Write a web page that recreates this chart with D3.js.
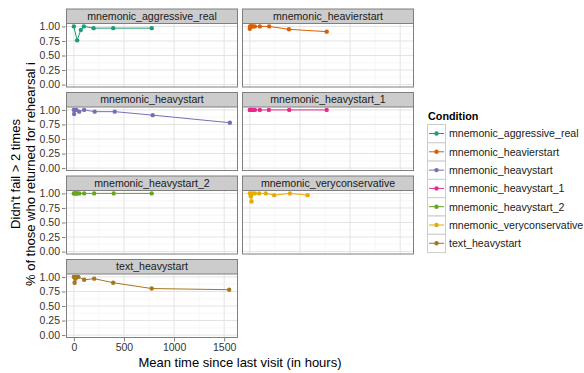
<!DOCTYPE html>
<html><head><meta charset="utf-8">
<script src="https://cdn.jsdelivr.net/npm/d3@7"></script>
<style>body{margin:0;background:#fff}svg{display:block;font-family:"Liberation Sans",Arial,sans-serif}</style>
</head><body><svg id="c" width="584" height="373"></svg>
<script>
const conditions = ["mnemonic_aggressive_real","mnemonic_heavierstart","mnemonic_heavystart","mnemonic_heavystart_1","mnemonic_heavystart_2","mnemonic_veryconservative","text_heavystart"];
const colors = ["#1B9E77","#D95F02","#7570B3","#E7298A","#66A61E","#E6AB02","#A6761D"];

const aggressiveHours = [0, 33, 70, 100, 197, 393, 777];
const aggressiveVals  = [1.0, 0.76, 0.94, 1.0, 0.97, 0.97, 0.97];
const heavierHours = [0, 3, 10, 20, 30, 50, 100, 193, 390, 767];
const heavierVals  = [0.96, 1.0, 1.0, 1.0, 1.0, 1.0, 1.0, 1.0, 0.95, 0.91];
const heavyHours = [0, 3, 12, 25, 53, 103, 208, 408, 787, 1557];
const heavyVals  = [1.0, 0.93, 1.0, 1.0, 0.97, 1.0, 0.97, 0.97, 0.91, 0.78];
const heavy1Hours = [0, 5, 10, 20, 30, 50, 100, 190, 393, 767];
const heavy1Vals  = [1, 1, 1, 1, 1, 1, 1, 1, 1, 1];
const heavy2Hours = [0, 8, 15, 25, 35, 55, 103, 203, 398, 777];
const heavy2Vals  = [1, 1, 1, 1, 1, 1, 1, 1, 1, 1];
const conservHours = [0, 10, 17, 25, 50, 93, 160, 243, 400, 577];
const conservVals  = [1.0, 0.95, 0.86, 1.0, 1.0, 1.0, 1.0, 0.97, 1.0, 0.97];
const textHours = [0, 8, 17, 25, 45, 103, 203, 393, 777, 1550];
const textVals  = [1.0, 0.90, 0.97, 1.0, 1.0, 0.95, 0.97, 0.90, 0.80, 0.78];

const xTicks = [0, 500, 1000, 1500];
const xMinor = [250, 750, 1250];
const yTicks = [0, 0.25, 0.5, 0.75, 1.0];
const yMinor = [0.125, 0.375, 0.625, 0.875];

const seriesHours = [aggressiveHours, heavierHours, heavyHours, heavy1Hours, heavy2Hours, conservHours, textHours];
const seriesVals = [aggressiveVals, heavierVals, heavyVals, heavy1Vals, heavy2Vals, conservVals, textVals];

const svg = d3.select("#c");
const font = '"Liberation Sans",Arial,sans-serif';
const colLeft = [66, 242], panelW = 172;
const rowTop0 = 8.5, rowPitch = 83.5, stripH = 15, panelH = 64;

const x = d3.scaleLinear().domain([-78, 1638]).range([0, panelW]);
const y = d3.scaleLinear().domain([-0.05, 1.05]).range([panelH, 0]);

conditions.forEach((cond, i) => {
  const col = i % 2, row = Math.floor(i / 2);
  const px = colLeft[col], sTop = rowTop0 + row * rowPitch, pTop = sTop + stripH;
  // strip
  svg.append("rect").attr("x", px + 0.5).attr("y", sTop + 0.5).attr("width", panelW - 1).attr("height", stripH)
    .attr("fill", "#cccccc").attr("stroke", "#7f7f7f").attr("stroke-width", 1);
  svg.append("text").attr("x", px + panelW / 2).attr("y", sTop + stripH / 2 + 3.8).attr("text-anchor", "middle")
    .attr("font-size", 10.6).attr("fill", "#1a1a1a").text(cond);
  const g = svg.append("g").attr("transform", `translate(${px},${pTop})`);
  g.append("rect").attr("width", panelW).attr("height", panelH).attr("fill", "#fff");
  xMinor.forEach(v => g.append("line").attr("x1", x(v)).attr("x2", x(v)).attr("y1", 0).attr("y2", panelH).attr("stroke", "#f5f5f5").attr("stroke-width", 0.8));
  yMinor.forEach(v => g.append("line").attr("y1", y(v)).attr("y2", y(v)).attr("x1", 0).attr("x2", panelW).attr("stroke", "#f5f5f5").attr("stroke-width", 0.8));
  xTicks.forEach(v => g.append("line").attr("x1", x(v)).attr("x2", x(v)).attr("y1", 0).attr("y2", panelH).attr("stroke", "#e3e3e3").attr("stroke-width", 1));
  yTicks.forEach(v => g.append("line").attr("y1", y(v)).attr("y2", y(v)).attr("x1", 0).attr("x2", panelW).attr("stroke", "#e3e3e3").attr("stroke-width", 1));
  const pts = seriesHours[i].map((h, k) => [h, seriesVals[i][k]]).sort((a, b) => a[0] - b[0]);
  g.append("path").datum(pts).attr("fill", "none").attr("stroke", colors[i]).attr("stroke-width", 1)
    .attr("d", d3.line().x(d => x(d[0])).y(d => y(d[1])));
  g.selectAll("circle").data(pts).enter().append("circle").attr("cx", d => x(d[0])).attr("cy", d => y(d[1]))
    .attr("r", 2.2).attr("fill", colors[i]);
  g.append("rect").attr("x", 0.5).attr("y", 0).attr("width", panelW - 1).attr("height", panelH - 0.5)
    .attr("fill", "none").attr("stroke", "#7f7f7f").attr("stroke-width", 1);
  if (col === 0) {
    const ya = d3.axisLeft(y).tickValues(yTicks).tickFormat(d3.format(".2f")).tickSize(3.5).tickPadding(2);
    const ag = g.append("g").attr("transform", "translate(-0.5,0)").call(ya);
    ag.select(".domain").remove();
    ag.selectAll("line").attr("stroke", "#7f7f7f");
    ag.selectAll("text").attr("font-size", 10.5).attr("fill", "#333").attr("font-family", font);
  }
  if (i === conditions.length - 1) {
    const xa = d3.axisBottom(x).tickValues(xTicks).tickFormat(d3.format("d")).tickSize(3.5).tickPadding(2);
    const ag = g.append("g").attr("transform", `translate(0,${panelH})`).call(xa);
    ag.select(".domain").remove();
    ag.selectAll("line").attr("stroke", "#7f7f7f");
    ag.selectAll("text").attr("font-size", 10.5).attr("fill", "#333").attr("font-family", font);
  }
});

// axis titles
svg.append("text").attr("x", 240).attr("y", 367).attr("text-anchor", "middle").attr("font-size", 13).attr("fill", "#000")
  .text("Mean time since last visit (in hours)");
const yt = svg.append("text").attr("transform", "translate(20,174) rotate(-90)").attr("text-anchor", "middle").attr("font-size", 13).attr("fill", "#000");
yt.append("tspan").attr("x", 0).attr("y", 0).text("Didn't fail > 2 times");
yt.append("tspan").attr("x", 0).attr("y", 15).text("% of those who returned for rehearsal i");

// legend
const lg = svg.append("g");
lg.append("text").attr("x", 428).attr("y", 120).attr("font-size", 10.8).attr("font-weight", "bold").text("Condition");
conditions.forEach((cond, i) => {
  const cy = 133.5 + i * 18.3;
  lg.append("rect").attr("x", 427.5).attr("y", cy - 9).attr("width", 18).attr("height", 18.3).attr("fill", "#fff").attr("stroke", "#cccccc");
  lg.append("line").attr("x1", 429).attr("x2", 444).attr("y1", cy).attr("y2", cy).attr("stroke", colors[i]).attr("stroke-width", 1);
  lg.append("circle").attr("cx", 436.5).attr("cy", cy).attr("r", 2.2).attr("fill", colors[i]);
  lg.append("text").attr("x", 449).attr("y", cy + 3.8).attr("font-size", 10.6).attr("fill", "#1a1a1a").text(cond);
});
</script></body></html>
